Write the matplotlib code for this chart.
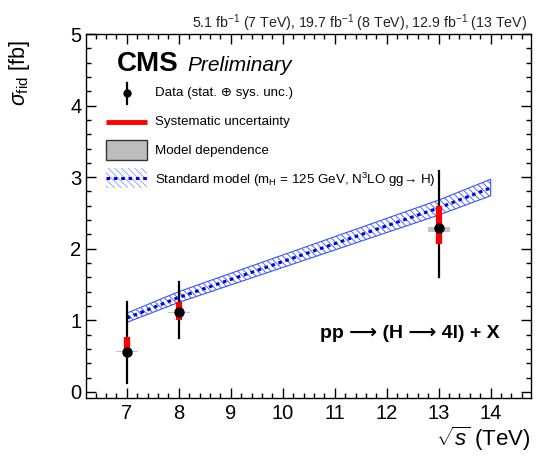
import matplotlib
matplotlib.use("Agg")
import matplotlib.pyplot as plt
from matplotlib.ticker import MultipleLocator
from matplotlib.patches import Rectangle
import numpy as np

plt.rcParams['font.family'] = ['Liberation Sans', 'DejaVu Sans']
plt.rcParams['mathtext.fontset'] = 'custom'
plt.rcParams['mathtext.rm'] = 'Liberation Sans'
plt.rcParams['mathtext.it'] = 'Liberation Sans:italic'
plt.rcParams['mathtext.bf'] = 'Liberation Sans:bold'
plt.rcParams['hatch.linewidth'] = 0.6

# ---- data ----
energies = [7, 8, 13]
xsec = [0.56, 1.11, 2.29]
tot_up = [0.70, 0.43, 0.80]
tot_dn = [0.44, 0.36, 0.68]
sys_up = [0.21, 0.14, 0.30]
sys_dn = [0.06, 0.10, 0.23]
mod_up = [0.01, 0.01, 0.01]
mod_dn = [0.01, 0.01, 0.05]

sm_energy = [7, 8, 13, 14]
sm_xsec = [1.03, 1.32, 2.57, 2.85]
sm_up = [0.07, 0.08, 0.11, 0.12]
sm_dn = [0.06, 0.07, 0.10, 0.11]

xticks = [7, 8, 9, 10, 11, 12, 13, 14]
yticks = [0, 1, 2, 3, 4, 5]

W, H = 542, 463
fig = plt.figure(figsize=(W / 100, H / 100), dpi=100)
L, R, B, T = 85.7, 530.7, 398.3, 34.0
ax = fig.add_axes([L / W, 1 - B / H, (R - L) / W, (B - T) / H])

def axpos(px, py):
    return ((px - L) / (R - L), (B - py) / (B - T))

# SM band
sx = np.array(sm_energy, float)
sy = np.array(sm_xsec)
ax.fill_between(sx, sy - np.array(sm_dn), sy + np.array(sm_up), facecolor='none',
                edgecolor='#3355ff', hatch='\\' * 5, linewidth=0.8, zorder=2)
ax.plot(sx, sy, color='#0000ee', linestyle=(0, (1.2, 1.2)), linewidth=2.2, zorder=3)

# data
for e, v, tu, td, su, sd, mu, md in zip(energies, xsec, tot_up, tot_dn, sys_up, sys_dn, mod_up, mod_dn):
    ax.bar(e, mu + md, bottom=v - md, width=0.42, color='#c4c4c4', edgecolor='none', zorder=3)
    ax.plot([e, e], [v - td, v + tu], color='black', linewidth=1.6, zorder=4)
    ax.plot([e, e], [v - sd, v + su], color='#ff0000', linewidth=4.5, solid_capstyle='butt', zorder=5)
    ax.plot([e], [v], marker='o', color='black', markersize=6.5, zorder=6)

ax.set_xlim(6.21, 14.77)
ax.set_ylim(-0.09, 5.0)
ax.set_xticks(xticks)
ax.set_yticks(yticks)
ax.xaxis.set_minor_locator(MultipleLocator(0.2))
ax.yaxis.set_minor_locator(MultipleLocator(0.2))
ax.tick_params(which='both', direction='in', top=True, right=True, labelsize=14.5)
ax.tick_params(which='major', length=7, width=1.0)
ax.tick_params(which='minor', length=3.6, width=1.0)
ax.tick_params(axis='x', pad=4)
ax.tick_params(axis='y', pad=3)
for s in ax.spines.values():
    s.set_linewidth(1.0)

# axis labels
ax.set_xlabel(r'$\sqrt{s}$ (TeV)', fontsize=16, loc='right', labelpad=1)
fig.text(20 / W, 1 - 40 / H, r'$\sigma_{\rm fid}$ [fb]', fontsize=15.5, rotation=90,
         ha='center', va='top')

# top text
fig.text(527 / W, 1 - 28 / H,
         r'5.1 fb$^{\mathregular{-1}}$ (7 TeV), 19.7 fb$^{\mathregular{-1}}$ (8 TeV), 12.9 fb$^{\mathregular{-1}}$ (13 TeV)',
         fontsize=10.2, ha='right', va='baseline', color='#222222')

# CMS label
x0, y0 = axpos(117, 71)
ax.text(x0, y0, 'CMS', transform=ax.transAxes, fontsize=20, fontweight='bold',
        va='baseline', ha='left')
x0, y0 = axpos(187, 71)
ax.text(x0, y0, 'Preliminary', transform=ax.transAxes, fontsize=15, style='italic',
        va='baseline', ha='left')

# legend (manual)
tx = 155
fs = 9.6
# data
cx, cy = axpos(127, 93)
_, ytop = axpos(0, 83)
_, ybot = axpos(0, 104)
ax.plot([cx, cx], [ybot, ytop], transform=ax.transAxes, color='black', lw=1.6, clip_on=False)
ax.plot([cx], [cy], transform=ax.transAxes, marker='o', color='black', ms=5, clip_on=False)
ax.text(*axpos(tx, 93), r'Data (stat. ⊕ sys. unc.)', transform=ax.transAxes, fontsize=fs, va='center')
# sys
x1, y1 = axpos(106, 122)
x2, _ = axpos(147, 122)
ax.plot([x1, x2], [y1, y1], transform=ax.transAxes, color='#ff0000', lw=3.5, solid_capstyle='butt')
ax.text(*axpos(tx, 122), 'Systematic uncertainty', transform=ax.transAxes, fontsize=fs, va='center')
# model dependence
xa, ya = axpos(106, 160)
xb, yb = axpos(147, 140)
ax.add_patch(Rectangle((xa, ya), xb - xa, yb - ya, transform=ax.transAxes,
                       facecolor='#bdbdbd', edgecolor='#333333', lw=1.0))
ax.text(*axpos(tx, 151), 'Model dependence', transform=ax.transAxes, fontsize=fs, va='center')
# SM
xa, ya = axpos(106, 188)
xb, yb = axpos(147, 168)
ax.add_patch(Rectangle((xa, ya), xb - xa, yb - ya, transform=ax.transAxes,
                       facecolor='none', edgecolor='#8899ff', hatch='\\' * 5, lw=0))
_, ym = axpos(0, 178)
ax.plot([xa, xb], [ym, ym], transform=ax.transAxes, color='#0000ee', lw=2.2, linestyle=(0, (1.2, 1.2)))
ax.text(*axpos(tx, 180), r'Standard model (m$_{\mathregular{H}}$ = 125 GeV, N$^{\mathregular{3}}$LO gg→ H)',
        transform=ax.transAxes, fontsize=fs, va='center')

# process label
ax.text(*axpos(320, 338), 'pp \u27f6 (H \u27f6 4l) + X', transform=ax.transAxes,
        fontsize=14, fontweight='bold', va='baseline', ha='left')

fig.savefig('out.png', dpi=100)
